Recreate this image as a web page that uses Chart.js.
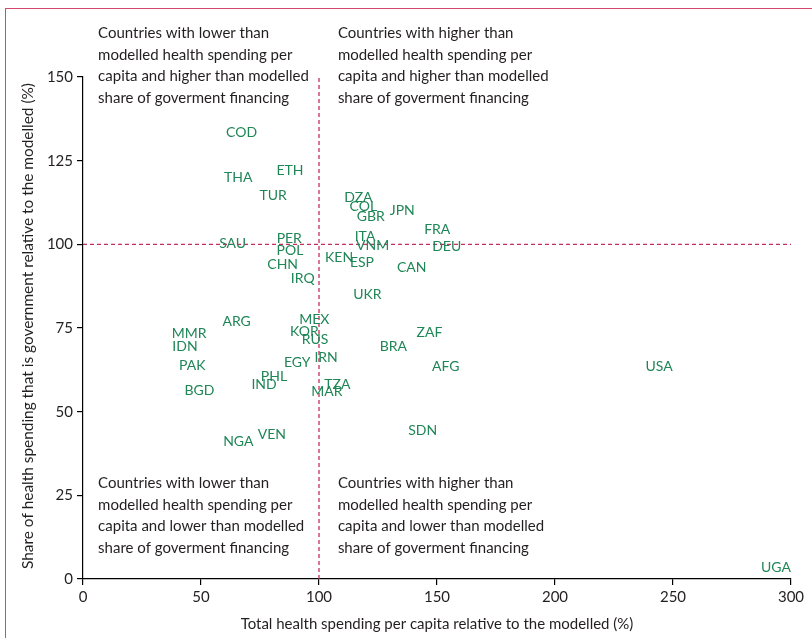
<!DOCTYPE html>
<html>
<head>
<meta charset="utf-8">
<script src="https://cdn.jsdelivr.net/npm/chart.js@4.4.1/dist/chart.umd.min.js"></script>
<style>
  body { margin: 0; background: #fff; }
  #wrap { position: relative; width: 812px; height: 638px; }
  #frame {
    position: absolute; left: 5px; top: 8px; right: 0; bottom: 0;
    border-left: 1.5px solid #d5486e; border-top: 1.5px solid #d5486e;
    pointer-events: none;
  }
</style>
</head>
<body>
<div id="wrap">
  <canvas id="grafico"></canvas>
  <div id="frame"></div>
</div>
<script>
// datos del gráfico
const paises = ["COD", "ETH", "THA", "TUR", "DZA", "COL", "GBR", "JPN", "FRA", "DEU",
  "ITA", "VNM", "SAU", "PER", "POL", "CHN", "IRQ", "KEN", "ESP", "CAN", "UKR",
  "MEX", "ARG", "MMR", "IDN", "KOR", "RUS", "ZAF", "BRA", "IRN", "EGY", "PAK",
  "AFG", "PHL", "IND", "TZA", "MAR", "BGD", "NGA", "VEN", "SDN", "USA", "UGA"];
// gasto total per cápita relativo al modelado (%)
const gastoTotal = [67.2, 87.7, 65.8, 80.6, 116.7, 118.8, 121.9, 135.3, 150.1, 154.1,
  119.5, 122.7, 63.4, 87.4, 87.7, 84.6, 93.1, 108.5, 118.2, 139.3, 120.5,
  98.0, 65.1, 45.0, 43.2, 93.8, 98.3, 146.8, 131.5, 103.0, 90.8, 46.3,
  153.7, 80.9, 76.7, 107.8, 103.3, 49.3, 65.8, 80.0, 143.9, 244.1, 293.6];
// proporción de gasto público relativa al modelado (%)
const gastoPublico = [133.3, 122.0, 119.9, 114.7, 113.9, 111.2, 108.3, 110.2, 104.5, 99.5,
  102.3, 99.8, 100.3, 101.6, 98.3, 94.0, 89.8, 96.0, 94.5, 93.1, 85.1,
  77.4, 76.9, 73.4, 69.4, 74.1, 71.6, 73.6, 69.4, 66.1, 64.6, 63.7,
  63.4, 60.4, 58.0, 58.0, 56.0, 56.3, 41.0, 43.2, 44.3, 63.6, 3.3];

const ticksX = [0, 50, 100, 150, 200, 250, 300];
const ticksY = [0, 25, 50, 75, 100, 125, 150];

const tituloY = "Share of health spending that is government relative to the modelled (%)";

// textos de los cuadrantes
const notas = [
  { x: 6.4, y: 163, lineas: ["Countries with lower than", "modelled health spending per", "capita and higher than modelled", "share of goverment financing"] },
  { x: 108, y: 163, lineas: ["Countries with higher than", "modelled health spending per", "capita and higher than modelled", "share of goverment financing"] },
  { x: 6.4, y: 28.6, lineas: ["Countries with lower than", "modelled health spending per", "capita and lower than modelled", "share of goverment financing"] },
  { x: 108, y: 28.6, lineas: ["Countries with higher than", "modelled health spending per", "capita and lower than modelled", "share of goverment financing"] }
];

const VERDE = "#1f8656";
const ROJO = "#c4305e";
const FUENTE = "Lato, 'Open Sans', sans-serif";

const puntos = paises.map((p, i) => ({ x: gastoTotal[i], y: gastoPublico[i] }));

// dibuja las etiquetas de países, las notas y el título del eje y
const etiquetas = {
  id: "etiquetas",
  afterDatasetsDraw(chart) {
    const ctx = chart.ctx;
    const meta = chart.getDatasetMeta(0);
    ctx.save();
    ctx.font = "14px " + FUENTE;
    ctx.fillStyle = VERDE;
    ctx.textAlign = "center";
    ctx.textBaseline = "middle";
    meta.data.forEach((el, i) => {
      ctx.fillText(paises[i], el.x, el.y);
    });
    const sx = chart.scales.x, sy = chart.scales.y;
    ctx.font = "15px " + FUENTE;
    ctx.fillStyle = "#231f20";
    ctx.textAlign = "left";
    notas.forEach(n => {
      const px = sx.getPixelForValue(n.x);
      const py = sy.getPixelForValue(n.y);
      n.lineas.forEach((t, k) => ctx.fillText(t, px, py + k * 21.5));
    });
    // título del eje y
    const area = chart.chartArea;
    ctx.font = "15.4px " + FUENTE;
    ctx.translate(28, (area.top + area.bottom) / 2 - 2);
    ctx.rotate(-Math.PI / 2);
    ctx.textAlign = "center";
    ctx.fillText(tituloY, 0, 0);
    ctx.restore();
  }
};

const ctx = document.getElementById("grafico").getContext("2d");
const chart = new Chart(ctx, {
  type: "scatter",
  data: {
    datasets: [{
      label: "Países",
      data: puntos,
      pointRadius: 0,
      pointHoverRadius: 0
    }, {
      type: "line",
      data: [{ x: 100, y: 0 }, { x: 100, y: 150 }],
      borderColor: ROJO,
      borderWidth: 1.3,
      borderDash: [4, 3],
      pointRadius: 0,
      fill: false
    }, {
      type: "line",
      data: [{ x: 0, y: 100 }, { x: 300, y: 100 }],
      borderColor: ROJO,
      borderWidth: 1.3,
      borderDash: [4, 3],
      pointRadius: 0,
      fill: false
    }]
  },
  options: {
    responsive: true,
    maintainAspectRatio: false,
    animation: false,
    layout: { padding: { left: 0, right: 21, top: 77, bottom: 0 } },
    plugins: {
      legend: { display: false },
      tooltip: { enabled: false }
    },
    scales: {
      x: {
        type: "linear",
        min: 0,
        max: 300,
        afterFit: s => { s.height = 59; },
        afterBuildTicks: s => { s.ticks = ticksX.map(v => ({ value: v })); },
        grid: { drawOnChartArea: false, drawTicks: true, tickLength: 6, color: "#000", lineWidth: 1.2 },
        border: { color: "#000", width: 1.2 },
        ticks: { color: "#231f20", font: { family: FUENTE, size: 15 }, padding: 3, maxRotation: 0 },
        title: {
          display: true,
          text: "Total health spending per capita relative to the modelled (%)",
          color: "#231f20",
          font: { family: FUENTE, size: 15 },
          padding: { top: 0, bottom: 5 }
        }
      },
      y: {
        type: "linear",
        min: 0,
        max: 150,
        afterFit: s => { s.width = 83; },
        afterBuildTicks: s => { s.ticks = ticksY.map(v => ({ value: v })); },
        grid: { drawOnChartArea: false, drawTicks: true, tickLength: 6, color: "#000", lineWidth: 1.2 },
        border: { color: "#000", width: 1.2 },
        ticks: { color: "#231f20", font: { family: FUENTE, size: 15 }, padding: 4 }
      }
    }
  },
  plugins: [etiquetas]
});
</script>
</body>
</html>
